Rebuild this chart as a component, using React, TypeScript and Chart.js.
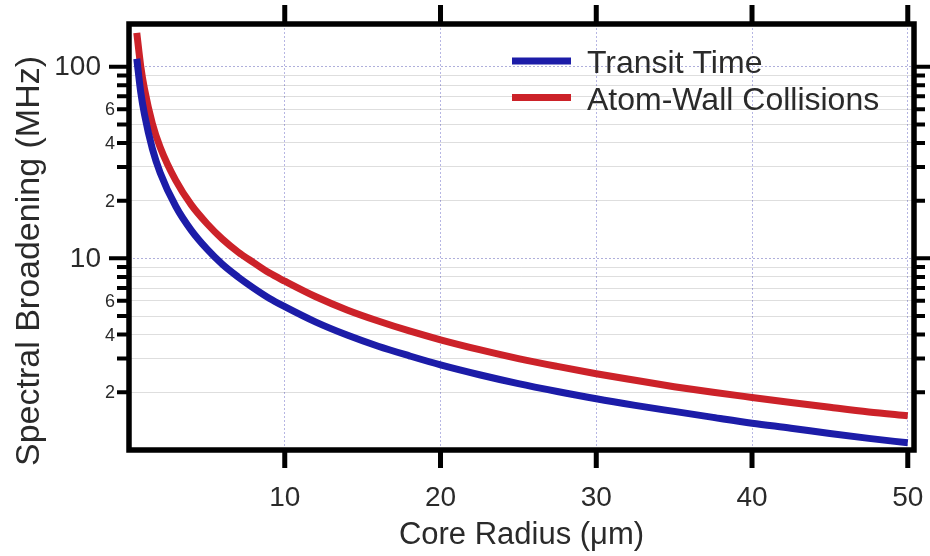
import { useEffect, useRef } from 'react';
import { Chart, registerables } from 'chart.js';

Chart.register(...registerables);

// Core radius in micrometres
const RADIUS = [0.5, 0.75, 1, 1.5, 2, 3, 4, 5, 6, 7, 8, 9, 10, 12, 14, 16, 18, 20, 22.5, 25, 27.5, 30, 32.5, 35, 37.5, 40, 42.5, 45, 47.5, 50];
// Spectral broadening in MHz
const TRANSIT_TIME = [110, 74, 56, 37.3, 28, 18.7, 14, 11.2, 9.3, 8.0, 7.0, 6.2, 5.6, 4.65, 3.98, 3.48, 3.1, 2.78, 2.47, 2.22, 2.02, 1.85, 1.71, 1.59, 1.48, 1.38, 1.3, 1.22, 1.15, 1.09];
const WALL_COLLISIONS = [150, 101, 76, 50.5, 38, 25.5, 19, 15.2, 12.6, 10.8, 9.5, 8.4, 7.6, 6.3, 5.38, 4.71, 4.18, 3.76, 3.34, 3.0, 2.73, 2.5, 2.31, 2.14, 2.0, 1.88, 1.77, 1.67, 1.58, 1.51];

const SERIES_NAMES = ['Transit Time', 'Atom-Wall Collisions'];
const SERIES_COLORS = ['#1c1ca8', '#cc2229'];

const X_TICKS = [0, 10, 20, 30, 40, 50];
const Y_TICKS = [1, 2, 3, 4, 5, 6, 7, 8, 9, 10, 20, 30, 40, 50, 60, 70, 80, 90, 100];
const Y_MAJOR = [1, 10, 100];
const Y_LABEL_VALUES = [2, 4, 6, 10, 20, 40, 60, 100];
const Y_LABEL_TEXT = ['2', '4', '6', '10', '2', '4', '6', '100'];

const X_TITLE = 'Core Radius (μm)';
const Y_TITLE = 'Spectral Broadening (MHz)';

const FONT = '"Liberation Sans", Arial, Helvetica, sans-serif';
const TEXT = '#2a2a2a';

// Frame, outward tick marks, y labels, y title and the in-plot legend
const decorations = {
  id: 'decorations',
  afterDatasetsDraw(chart: any) {
    const { ctx, chartArea: a, scales } = chart;
    const xs = scales.x;
    const ys = scales.y;
    ctx.save();

    ctx.strokeStyle = '#000';
    ctx.lineWidth = 5.5;
    ctx.strokeRect(a.left, a.top, a.right - a.left, a.bottom - a.top);

    ctx.lineWidth = 5;
    ctx.beginPath();
    for (const v of X_TICKS) {
      if (v === 0) continue;
      const px = xs.getPixelForValue(v);
      ctx.moveTo(px, a.bottom);
      ctx.lineTo(px, a.bottom + 18);
      ctx.moveTo(px, a.top);
      ctx.lineTo(px, a.top - 19);
    }
    ctx.stroke();

    ctx.lineWidth = 4;
    ctx.beginPath();
    for (const v of Y_TICKS) {
      if (v === 1) continue;
      const major = Y_MAJOR.includes(v);
      const py = ys.getPixelForValue(v);
      ctx.moveTo(a.left, py);
      ctx.lineTo(a.left - (major ? 20 : 12), py);
      ctx.moveTo(a.right, py);
      ctx.lineTo(a.right + (major ? 16 : 11), py);
    }
    ctx.stroke();

    ctx.fillStyle = TEXT;
    ctx.textAlign = 'right';
    ctx.textBaseline = 'middle';
    Y_LABEL_VALUES.forEach((v, i) => {
      const major = Y_MAJOR.includes(v);
      ctx.font = `${major ? 28 : 18}px ${FONT}`;
      ctx.fillText(Y_LABEL_TEXT[i], major ? a.left - 28 : a.left - 14, ys.getPixelForValue(v) + 1);
    });

    ctx.save();
    ctx.translate(39, 261);
    ctx.rotate(-Math.PI / 2);
    ctx.textAlign = 'center';
    ctx.textBaseline = 'alphabetic';
    ctx.font = `34px ${FONT}`;
    ctx.fillText(Y_TITLE, 0, 0);
    ctx.restore();

    ctx.textAlign = 'left';
    ctx.textBaseline = 'alphabetic';
    ctx.font = `32px ${FONT}`;
    chart.data.datasets.forEach((ds: any, i: number) => {
      const cy = 61 + i * 36.5;
      ctx.strokeStyle = ds.borderColor;
      ctx.lineWidth = 7;
      ctx.beginPath();
      ctx.moveTo(512, cy);
      ctx.lineTo(571, cy);
      ctx.stroke();
      ctx.fillStyle = TEXT;
      ctx.fillText(ds.label, 587, cy + 12);
    });

    ctx.restore();
  },
};

export default function App() {
  const canvasRef = useRef<HTMLCanvasElement | null>(null);

  useEffect(() => {
    const canvas = canvasRef.current;
    if (!canvas) return;
    const seriesValues = [TRANSIT_TIME, WALL_COLLISIONS];
    const chart = new Chart(canvas, {
      type: 'line',
      data: {
        datasets: seriesValues.map((vals, i) => ({
          label: SERIES_NAMES[i],
          data: RADIUS.map((r, j) => ({ x: r, y: vals[j] })),
          borderColor: SERIES_COLORS[i],
          backgroundColor: SERIES_COLORS[i],
          borderWidth: 7,
          pointRadius: 0,
          cubicInterpolationMode: 'monotone',
          fill: false,
        })),
      },
      options: {
        animation: false,
        responsive: false,
        devicePixelRatio: 1,
        layout: { padding: { top: 24, right: 16, left: 0, bottom: 0 } },
        plugins: { legend: { display: false }, tooltip: { enabled: false } },
        scales: {
          x: {
            type: 'linear',
            position: 'bottom',
            min: 0,
            max: 50.4,
            afterBuildTicks: (s: any) => {
              s.ticks = X_TICKS.map((v) => ({ value: v }));
            },
            afterFit: (s: any) => {
              s.height = 106;
              s.paddingLeft = 0;
              s.paddingRight = 0;
            },
            grid: {
              drawTicks: false,
              lineWidth: 1,
              color: 'rgba(110,110,200,0.5)',
            },
            border: { display: false, dash: [2, 2] },
            ticks: {
              padding: 31,
              autoSkip: false,
              maxRotation: 0,
              color: TEXT,
              font: { family: FONT, size: 28 },
              callback: (v: any) => (v === 0 ? '' : String(v)),
            },
            title: {
              display: true,
              text: X_TITLE,
              color: TEXT,
              font: { family: FONT, size: 31 },
              padding: { top: 0, bottom: 2 },
            },
          },
          y: {
            type: 'logarithmic',
            min: 1,
            max: 167,
            afterBuildTicks: (s: any) => {
              s.ticks = Y_TICKS.map((v) => ({ value: v, major: Y_MAJOR.includes(v) }));
            },
            afterFit: (s: any) => {
              s.width = 129;
              s.paddingTop = 0;
              s.paddingBottom = 0;
            },
            grid: {
              drawTicks: false,
              lineWidth: 1,
              color: (c: any) =>
                c.tick && Y_MAJOR.includes(c.tick.value) ? 'rgba(110,110,190,0.55)' : 'rgba(0,0,0,0.13)',
            },
            border: {
              display: false,
              dash: (c: any) => (c.tick && Y_MAJOR.includes(c.tick.value) ? [2, 2] : []),
            },
            ticks: { display: false },
          },
        },
      },
      plugins: [decorations],
    } as any);
    return () => chart.destroy();
  }, []);

  return (
    <div style={{ position: 'absolute', left: 0, top: 0, width: 930, height: 556, background: '#fff' }}>
      <canvas ref={canvasRef} width={930} height={556} style={{ display: 'block' }} />
    </div>
  );
}
